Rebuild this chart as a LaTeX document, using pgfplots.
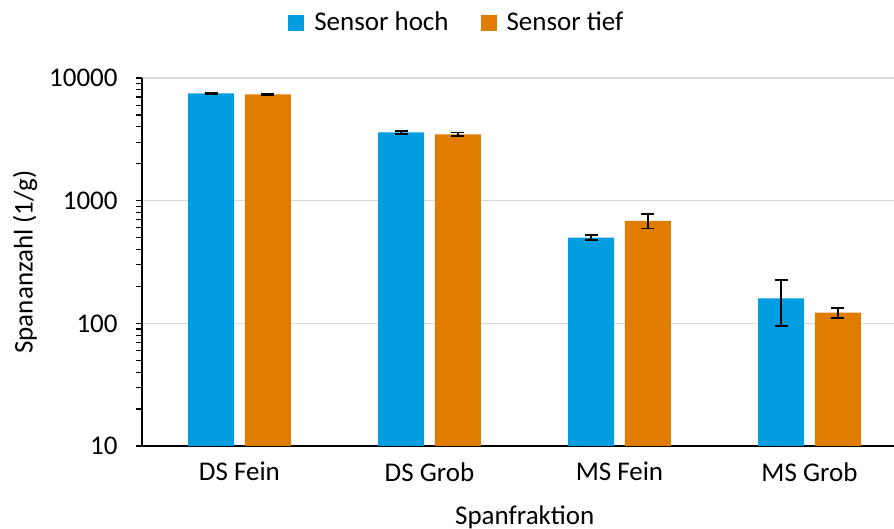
\documentclass[border=0pt]{standalone}
\usepackage{pgfplots}
\pgfplotsset{compat=1.18}
\usepackage{fontspec}
\setmainfont{Carlito}
\definecolor{cblue}{RGB}{0,158,224}
\definecolor{corange}{RGB}{224,125,0}
\definecolor{cgrid}{RGB}{217,217,217}
\begin{document}
\fontsize{13.5bp}{16bp}\selectfont
\begin{tikzpicture}
\begin{axis}[
  name=ax,
  scale only axis,
  width=376bp, height=184bp,
  ymode=log, log origin=infty,
  ymin=10, ymax=10000,
  xmin=-0.513, xmax=3.445,
  ybar, bar width=23bp,
  xtick={0,1,2,3},
  xticklabels={DS Fein, DS Grob, MS Fein, MS Grob},
  ytick={10,100,1000,10000},
  yticklabels={10,100,1000,10000},
  minor ytick={},
  major x tick style={draw=none},
  tick style={black, line width=0.6bp},
  major tick length=3bp,
  ytick align=outside,
  ymajorgrids, grid style={cgrid, line width=0.75bp},
  axis x line*=bottom, axis y line*=left,
  axis line style={black, line width=0.6bp},
  x axis line style={-}, y axis line style={-},
  xticklabel style={font=\fontsize{13.5bp}{16bp}\selectfont, yshift=-0.5bp},
  yticklabel style={font=\fontsize{13.5bp}{16bp}\selectfont, xshift=-4.5bp},
  xlabel={Spanfraktion}, ylabel={Spananzahl (1/g)},
  xlabel style={font=\fontsize{13.5bp}{16bp}\selectfont,
    at={(axis description cs:0.509,-0.193)}, anchor=center},
  ylabel style={font=\fontsize{13.5bp}{16bp}\selectfont,
    at={(axis description cs:-0.1556,0.5)}, anchor=center},
  legend style={at={(0.42,1)}, anchor=south, yshift=17.5bp, draw=none, fill=none,
    legend columns=2, font=\fontsize{13.5bp}{16bp}\selectfont,
    /tikz/every even column/.append style={column sep=14bp}},
  legend image code/.code={\fill[#1] (0bp,-4bp) rectangle (8bp,4bp); \path (11bp,0bp);},
  error bars/error bar style={black, line width=0.9bp},
  error bars/error mark options={black, line width=0.9bp, rotate=90, mark size=3.2bp},
]
\addplot[fill=cblue, draw=none, bar shift=-14.15bp,
  error bars/.cd, y dir=both, y explicit]
  table[x=x, y=y, y error=e] {
x y e
0 7500 60
1 3600 90
2 499 23
3 160 65
};
\addplot[fill=corange, draw=none, bar shift=14.15bp,
  error bars/.cd, y dir=both, y explicit]
  table[x=x, y=y, y error=e] {
x y e
0 7360 80
1 3470 120
2 685 92
3 122 12
};
\legend{Sensor hoch, Sensor tief}
\end{axis}
\pgfresetboundingbox
\path ([shift={(-71bp,-41.5bp)}]ax.south west) rectangle ([shift={(0bp,39bp)}]ax.north east);
\end{tikzpicture}
\end{document}
